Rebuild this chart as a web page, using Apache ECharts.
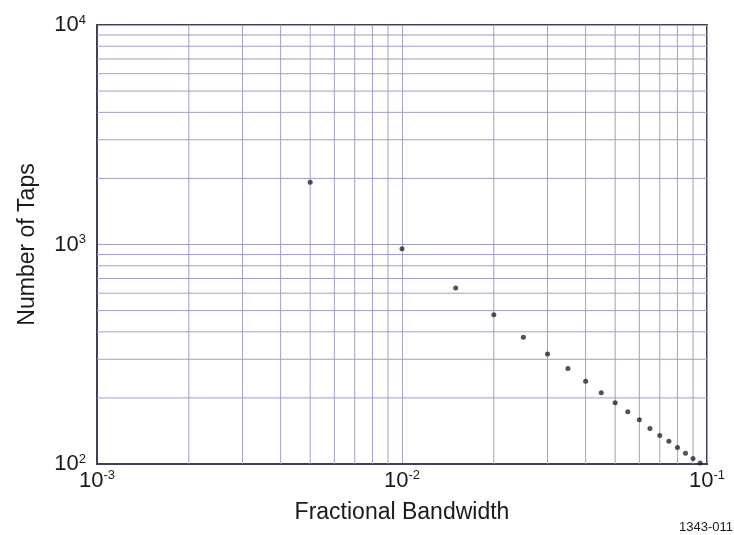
<!DOCTYPE html>
<html>
<head>
<meta charset="utf-8">
<script src="https://cdn.jsdelivr.net/npm/echarts@6/dist/echarts.min.js"></script>
<style>
  html, body { margin: 0; padding: 0; background: #fff; }
  #main { width: 734px; height: 535px; }
</style>
</head>
<body>
<div id="main"></div>
<script>
// fractional bandwidth (x) and number of taps (y)
var bandwidth = [0.005, 0.01, 0.015, 0.02, 0.025, 0.03, 0.035, 0.04, 0.045, 0.05,
                 0.055, 0.06, 0.065, 0.07, 0.075, 0.08, 0.085, 0.09, 0.095];
var taps = [1920, 957, 634, 478, 378, 317, 272, 238, 211, 190,
            173, 159, 145, 135, 127, 119, 112, 106, 101];

// minor grid lines (2..9 of each decade)
var xMinor = [0.002, 0.003, 0.004, 0.005, 0.006, 0.007, 0.008, 0.009,
              0.02, 0.03, 0.04, 0.05, 0.06, 0.07, 0.08, 0.09];
var yMinor = [200, 300, 400, 500, 600, 700, 800, 900,
              2000, 3000, 4000, 5000, 6000, 7000, 8000, 9000];

var gridColor = '#a79cc6';
var frameColor = '#453e55';
var font = 'Liberation Sans, Arial, sans-serif';

function powLabel(v) {
    var e = Math.round(Math.log10(v));
    return '{b|10}{s|' + e + '}';
}

var richLbl = {
    b: { fontSize: 22, fontFamily: font, color: '#1a1a1a' },
    s: { fontSize: 13, fontFamily: font, color: '#1a1a1a', padding: [0, 0, 10, 0] }
};

var points = bandwidth.map(function(x, i) { return [x, taps[i]]; });

// grid lines drawn through the axes' own scales
function vLine(params, api) {
    var cs = params.coordSys;
    var p = api.coord([api.value(0), 100]);
    return { type: 'line', silent: true,
        shape: { x1: p[0], y1: cs.y, x2: p[0], y2: cs.y + cs.height },
        style: { stroke: gridColor, lineWidth: 1 } };
}
function hLine(params, api) {
    var cs = params.coordSys;
    var p = api.coord([0.001, api.value(1)]);
    return { type: 'line', silent: true,
        shape: { x1: cs.x, y1: p[1], x2: cs.x + cs.width, y2: p[1] },
        style: { stroke: gridColor, lineWidth: 1 } };
}

var chart = echarts.init(document.getElementById('main'));

var option = {
    backgroundColor: '#fff',
    animation: false,
    grid: { left: 97, right: 27, top: 25, bottom: 71, show: true,
            borderColor: frameColor, borderWidth: 2, backgroundColor: 'transparent' },
    xAxis: {
        type: 'log',
        logBase: 10,
        min: 0.001,
        max: 0.1,
        name: 'Fractional Bandwidth',
        nameLocation: 'middle',
        nameGap: 37,
        nameTextStyle: { fontSize: 23, fontFamily: font, color: '#1a1a1a' },
        axisLine: { show: true, lineStyle: { color: frameColor, width: 2 } },
        axisTick: { show: false },
        axisLabel: { formatter: powLabel, rich: richLbl, margin: 5 },
        splitLine: { show: true, lineStyle: { color: gridColor, width: 1 } }
    },
    yAxis: {
        type: 'log',
        logBase: 10,
        min: 100,
        max: 10000,
        name: 'Number of Taps',
        nameLocation: 'middle',
        nameGap: 58,
        nameTextStyle: { fontSize: 23, fontFamily: font, color: '#1a1a1a' },
        axisLine: { show: true, lineStyle: { color: frameColor, width: 2 } },
        axisTick: { show: false },
        axisLabel: { formatter: powLabel, rich: richLbl, margin: 11 },
        splitLine: { show: true, lineStyle: { color: gridColor, width: 1 } }
    },
    graphic: [{
        type: 'text',
        right: 1,
        bottom: 1,
        style: { text: '1343-011', fontSize: 13,
                 fontFamily: 'Liberation Sans Narrow, Arial Narrow, sans-serif', fill: '#1a1a1a' }
    }],
    series: [{
        type: 'custom',
        renderItem: vLine,
        data: xMinor.map(function(v) { return [v, 100]; }),
        silent: true,
        z: 1
    }, {
        type: 'custom',
        renderItem: hLine,
        data: yMinor.map(function(v) { return [0.001, v]; }),
        silent: true,
        z: 1
    }, {
        type: 'scatter',
        data: points,
        symbol: 'circle',
        symbolSize: 5,
        itemStyle: { color: '#26262c' },
        z: 5
    }]
};

chart.setOption(option);
</script>
</body>
</html>
